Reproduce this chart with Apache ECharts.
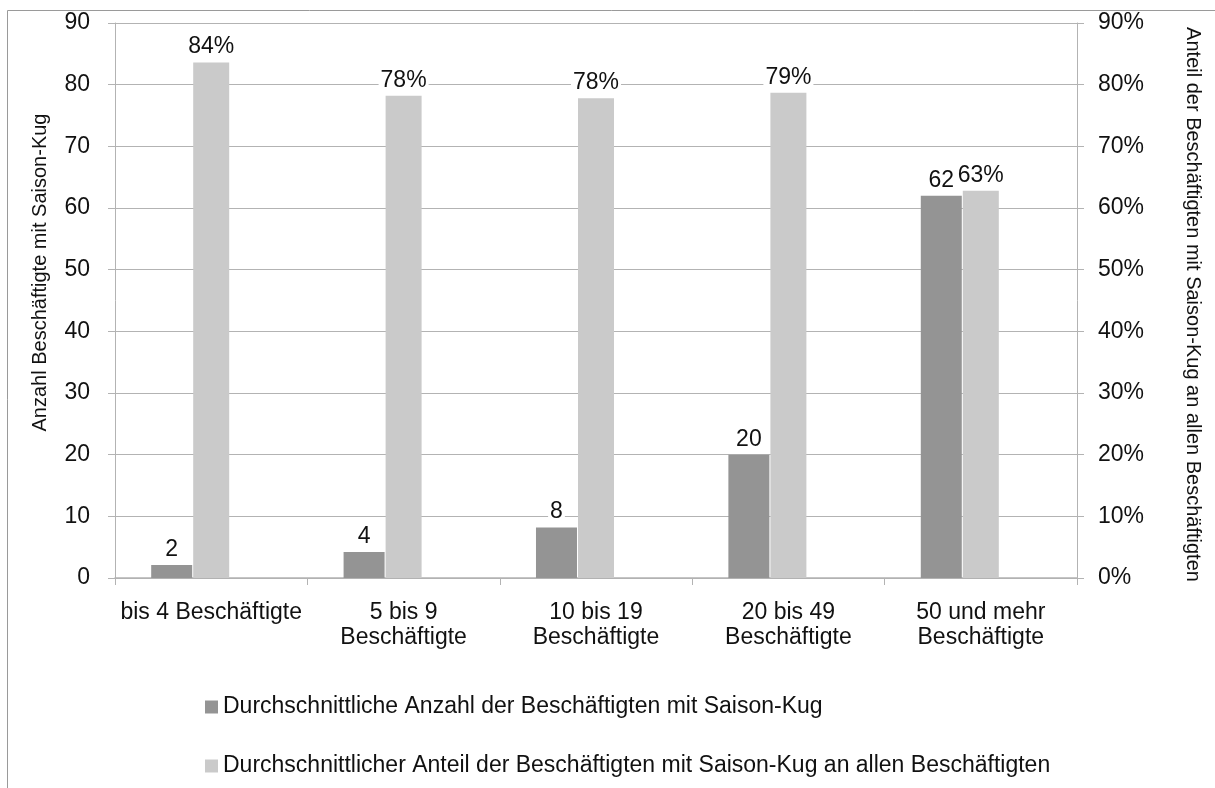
<!DOCTYPE html>
<html>
<head>
<meta charset="utf-8">
<script src="https://cdn.jsdelivr.net/npm/echarts@6/dist/echarts.min.js"></script>
<style>
  html, body { margin: 0; padding: 0; background: #fff; }
  #chart { width: 1215px; height: 788px; }
</style>
</head>
<body>
<div id="chart"></div>
<script>
// ── Daten ────────────────────────────────────────────────────────────────
const CATEGORIES = [
  'bis 4 Beschäftigte',
  '5 bis 9\nBeschäftigte',
  '10 bis 19\nBeschäftigte',
  '20 bis 49\nBeschäftigte',
  '50 und mehr\nBeschäftigte',
];
const ANZAHL = [2.1, 4.2, 8.2, 20, 62];           // linke Achse
const ANTEIL = [83.6, 78.2, 77.8, 78.7, 62.8];    // rechte Achse, in %
const NAME_ANZAHL = 'Durchschnittliche Anzahl der Beschäftigten mit Saison-Kug';
const NAME_ANTEIL = 'Durchschnittlicher Anteil der Beschäftigten mit Saison-Kug an allen Beschäftigten';

const FONT = 'Liberation Sans, Arial, sans-serif';
const DARK = '#949494';
const LIGHT = '#cacaca';
const GRID_GRAY = '#b3b3b3';
const FS = 23;

const chart = echarts.init(document.getElementById('chart'), null, { renderer: 'canvas' });

const dataLabel = (fmt) => ({
  show: true,
  position: 'top',
  distance: 4,
  fontFamily: FONT,
  fontSize: FS,
  color: '#111',
  backgroundColor: '#fff',
  padding: [0, 2, 0, 2],
  formatter: fmt,
});

chart.setOption({
  animation: false,
  textStyle: { fontFamily: FONT },
  grid: { left: 115, right: 138, top: 23, bottom: 210, containLabel: false },
  graphic: [{
    type: 'rect',
    shape: { x: 7.5, y: 10.5, width: 1400, height: 1000 },
    style: { fill: 'none', stroke: '#9a9a9a', lineWidth: 1 },
    silent: true,
  }],
  legend: {
    orient: 'vertical',
    left: 200,
    top: 689,
    itemWidth: 13,
    itemHeight: 13,
    itemGap: 33,
    icon: 'rect',
    data: [NAME_ANZAHL, NAME_ANTEIL],
    textStyle: { fontFamily: FONT, fontSize: FS, lineHeight: 26, color: '#111' },
  },
  xAxis: [
    {
      type: 'category',
      data: CATEGORIES,
      axisLine: { lineStyle: { color: GRID_GRAY, width: 1.5 } },
      axisTick: { show: true, length: 7, lineStyle: { color: GRID_GRAY } },
      axisLabel: { fontFamily: FONT, fontSize: FS, color: '#111', margin: 22, lineHeight: 25, interval: 0 },
    },
    {
      type: 'category',
      data: CATEGORIES,
      show: false,
    },
  ],
  yAxis: [
    {
      type: 'value',
      min: 0, max: 90, interval: 10,
      name: 'Anzahl Beschäftigte mit Saison-Kug',
      nameLocation: 'middle',
      nameGap: 65,
      nameTextStyle: { fontFamily: FONT, fontSize: 20, color: '#111', padding: [0, 0, 0, 56] },
      axisLine: { show: true, lineStyle: { color: GRID_GRAY } },
      axisTick: { show: true, length: 7, lineStyle: { color: GRID_GRAY } },
      axisLabel: { fontFamily: FONT, fontSize: FS, color: '#111', margin: 25 },
      splitLine: { lineStyle: { color: GRID_GRAY } },
    },
    {
      type: 'value',
      min: 0, max: 90, interval: 10,
      position: 'right',
      name: 'Anteil der Beschäftigten mit Saison-Kug an allen Beschäftigten',
      nameLocation: 'middle',
      nameGap: 106,
      nameRotate: -90,
      nameTextStyle: { fontFamily: FONT, fontSize: 20, color: '#111', padding: [0, 0, 0, 8] },
      axisLine: { show: true, lineStyle: { color: GRID_GRAY } },
      axisTick: { show: true, length: 7, lineStyle: { color: GRID_GRAY } },
      axisLabel: { fontFamily: FONT, fontSize: FS, color: '#111', margin: 21, formatter: '{value}%' },
      splitLine: { show: false },
    },
  ],
  series: [
    {
      name: NAME_ANZAHL,
      type: 'bar',
      xAxisIndex: 0,
      yAxisIndex: 0,
      data: ANZAHL,
      barWidth: 41,
      barGap: '2.5%',
      itemStyle: { color: DARK },
      label: dataLabel((p) => Math.round(p.value)),
    },
    {
      // Platzhalter, damit die dunklen Balken links neben der Kategoriemitte liegen
      name: '_platz',
      type: 'bar',
      xAxisIndex: 0,
      yAxisIndex: 0,
      data: CATEGORIES.map(() => null),
      barWidth: 78,
      silent: true,
    },
    {
      name: NAME_ANTEIL,
      type: 'bar',
      xAxisIndex: 1,
      yAxisIndex: 1,
      data: ANTEIL,
      barWidth: 36,
      itemStyle: { color: LIGHT },
      label: dataLabel((p) => Math.round(p.value) + '%'),
    },
  ],
});
</script>
</body>
</html>
